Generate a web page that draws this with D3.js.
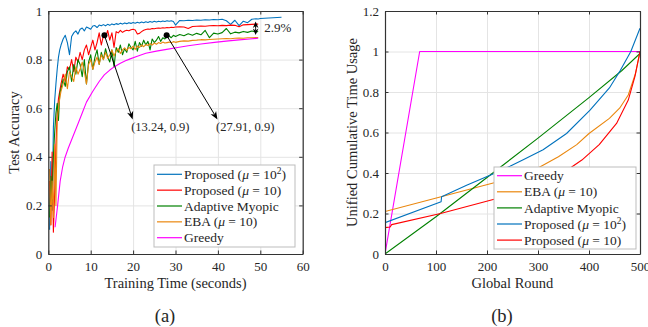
<!DOCTYPE html>
<html><head><meta charset="utf-8">
<script src="https://cdn.jsdelivr.net/npm/d3@7"></script>
<style>
body{margin:0;background:#fff}
svg{display:block}
text{font-family:"Liberation Serif","Times New Roman",serif;fill:#262626}
</style>
</head><body>
<svg id="c" width="648" height="327"></svg>
<script>
// ---------------- DATA: panel (a) ----------------
const timeA = [0.3,0.6,0.9,1.2,1.5,1.8,2.1,2.4,2.7,3.0,
3.5,4.0,4.5,5.0,5.5,6.0,6.5,7.0,7.5,8.0,
8.5,9.0,9.5,10.0,10.5,11.0,11.5,12.0,12.5,13.0,
13.5,14.0,14.5,15.0,15.5,16.0,16.5,17.0,17.5,18.0,
18.5,19.0,19.5,20.0,20.5,21.0,21.5,22.0,22.5,23.0,
23.5,24.0,24.5,25.0,25.5,26.0,26.5,27.0,27.5,28.0,
28.5,29.0,29.5,30.0,
31,32,33,34,35,36,37,38,39,40,
41,42,43,44,45,46,47,48,49,49.5];
const timeBlueExtra = [50,51,52,53,54,55];

const accProposed100 = [0.10,0.38,0.18,0.52,0.63,0.70,0.76,0.81,0.84,0.86,
0.885,0.90,0.87,0.82,0.895,0.91,0.918,0.905,0.925,0.93,
0.918,0.934,0.93,0.925,0.938,0.94,0.932,0.942,0.939,0.944,
0.939,0.945,0.941,0.947,0.943,0.948,0.945,0.95,0.946,0.951,
0.948,0.952,0.949,0.953,0.95,0.954,0.951,0.955,0.952,0.956,
0.953,0.957,0.954,0.958,0.955,0.958,0.956,0.959,0.957,0.96,
0.958,0.96,0.957,0.942,
0.961,0.96,0.962,0.961,0.963,0.962,0.964,0.963,0.965,0.964,
0.966,0.96,0.945,0.962,0.94,0.958,0.952,0.966,0.968,0.967,
0.969,0.97,0.971,0.972,0.973,0.974];

const accProposed10 = [0.30,0.12,0.42,0.09,0.25,0.45,0.58,0.64,0.67,0.70,
0.74,0.71,0.77,0.76,0.80,0.75,0.81,0.79,0.83,0.80,
0.84,0.86,0.82,0.85,0.88,0.84,0.87,0.91,0.86,0.90,
0.89,0.92,0.88,0.91,0.85,0.915,0.91,0.92,0.912,0.918,
0.921,0.919,0.923,0.925,0.922,0.905,0.908,0.915,0.921,0.924,
0.926,0.925,0.928,0.927,0.929,0.93,0.929,0.931,0.93,0.932,
0.931,0.933,0.932,0.934,
0.935,0.934,0.928,0.936,0.937,0.938,0.937,0.939,0.94,0.939,
0.941,0.94,0.942,0.941,0.935,0.943,0.944,0.945,0.946,0.946];

const accMyopic = [0.15,0.32,0.22,0.40,0.50,0.58,0.62,0.55,0.66,0.68,
0.72,0.69,0.75,0.77,0.71,0.78,0.74,0.80,0.78,0.73,
0.80,0.70,0.79,0.82,0.76,0.81,0.84,0.78,0.83,0.80,
0.845,0.81,0.79,0.84,0.77,0.85,0.83,0.86,0.82,0.845,
0.83,0.865,0.85,0.84,0.875,0.835,0.87,0.855,0.88,0.86,
0.875,0.84,0.885,0.87,0.88,0.895,0.875,0.89,0.885,0.895,
0.897,0.89,0.9,0.895,
0.903,0.898,0.906,0.9,0.908,0.902,0.92,0.89,0.909,0.905,
0.911,0.928,0.906,0.913,0.91,0.916,0.912,0.918,0.914,0.916];

const accEBA = [0.35,0.12,0.30,0.15,0.45,0.20,0.55,0.60,0.64,0.67,
0.70,0.74,0.68,0.75,0.73,0.71,0.77,0.74,0.76,0.79,
0.75,0.70,0.78,0.80,0.76,0.79,0.81,0.78,0.82,0.80,
0.83,0.805,0.82,0.84,0.815,0.835,0.845,0.825,0.84,0.848,
0.838,0.85,0.845,0.855,0.842,0.856,0.85,0.86,0.853,0.862,
0.858,0.866,0.86,0.868,0.863,0.87,0.866,0.872,0.868,0.87,
0.872,0.869,0.874,0.871,
0.875,0.877,0.876,0.879,0.88,0.882,0.881,0.883,0.884,0.885,
0.886,0.887,0.886,0.888,0.889,0.888,0.89,0.89,0.891,0.891];

const timeGreedy = [1.6,2.2,2.8,3.4,3.9,4.7,5.5,6.3,7.1,8,9,10.5,12,13.2,14.5,15.7,17,18.2,19.3,21,23,25.5,27.9,30.5,33,36,39.7,42.5,45,47.5,49.5];
const accGreedy = [0.11,0.2,0.3,0.36,0.395,0.435,0.47,0.505,0.54,0.58,0.625,0.67,0.71,0.737,0.757,0.772,0.785,0.795,0.803,0.814,0.826,0.835,0.842,0.85,0.857,0.864,0.872,0.877,0.881,0.885,0.888];

const xTicksA = [0,10,20,30,40,50,60];
const yTicksA = [0,0.2,0.4,0.6,0.8,1];
const legendA = ["Proposed (μ = 10^2)","Proposed (μ = 10)","Adaptive Myopic","EBA (μ = 10)","Greedy"];

// annotation points (a)
const annotPoints = [[13.24,0.9],[27.91,0.9]];
const annotTips = [[19.9,0.554],[39.9,0.554]];
const annotLabels = ["(13.24, 0.9)","(27.91, 0.9)"];
const gapX = 48.9, gapY = [0.957,0.901], gapLabel = "2.9%";

// ---------------- DATA: panel (b) ----------------
const roundGreedy = [0,68,500];
const usageGreedy = [0,1,1];
const roundEBA = [0,110,214,260,300,340,376,400,440,460,477,491,500];
const usageEBA = [0.21,0.283,0.352,0.385,0.425,0.48,0.54,0.595,0.67,0.72,0.785,0.89,1.0];
const roundMyopic = [0,100,200,300,400,464,500];
const usageMyopic = [0,0.184,0.378,0.572,0.772,0.905,0.99];
const roundProp100 = [0,110,111,160,214,245,271,310,356,402,440,461,482,500];
const usageProp100 = [0.155,0.258,0.283,0.34,0.398,0.433,0.465,0.515,0.595,0.71,0.82,0.905,1.0,1.115];
const roundProp10 = [0,10,13,109,214,286,340,366,386,420,454,477,490,500];
const usageProp10 = [0.13,0.133,0.145,0.2,0.27,0.316,0.385,0.43,0.464,0.54,0.645,0.76,0.876,1.0];

const xTicksB = [0,100,200,300,400,500];
const yTicksB = [0,0.2,0.4,0.6,0.8,1,1.2];
const legendB = ["Greedy","EBA (μ = 10)","Adaptive Myopic","Proposed (μ = 10^2)","Proposed (μ = 10)"];

// ---------------- STYLE ----------------
const C = {blue:"#0072BD", red:"#FF0000", green:"#008000", orange:"#EA870E", magenta:"#FF00FF"};
const axisColor = "#333", gridColor = "#e4e4e4";

const svg = d3.select("#c");

function richText(sel, str) {
  const parts = str.split(/(μ|\^\d+)/).filter(s => s.length);
  let shifted = false;
  parts.forEach(p => {
    if (p === "μ") {
      const t = sel.append("tspan").attr("font-style","italic").text("μ");
      if (shifted) { t.attr("dy", 5); shifted = false; }
    } else if (p[0] === "^") {
      sel.append("tspan").attr("dy",-5).attr("font-size","70%").text(p.slice(1));
      shifted = true;
    } else {
      const t = sel.append("tspan").text(p);
      if (shifted) { t.attr("dy", 5); shifted = false; }
    }
  });
}

function panel(p) {
  const x = d3.scaleLinear().domain(p.xDom).range([p.left, p.right]);
  const y = d3.scaleLinear().domain(p.yDom).range([p.bottom, p.top]);
  const g = svg.append("g");
  const h = p.bottom - p.top, w = p.right - p.left;
  // grid
  g.append("g").attr("transform",`translate(0,${p.bottom})`)
    .call(d3.axisBottom(x).tickValues(p.xTicks).tickSize(-h).tickFormat(""))
    .call(a => { a.select(".domain").remove(); a.selectAll("line").attr("stroke",gridColor).attr("stroke-width",1); });
  g.append("g").attr("transform",`translate(${p.left},0)`)
    .call(d3.axisLeft(y).tickValues(p.yTicks).tickSize(-w).tickFormat(""))
    .call(a => { a.select(".domain").remove(); a.selectAll("line").attr("stroke",gridColor).attr("stroke-width",1); });
  // clip
  const cid = "clip" + p.id;
  svg.append("clipPath").attr("id",cid).append("rect")
    .attr("x",p.left).attr("y",p.top).attr("width",w).attr("height",h);
  const lineGen = d3.line().x(d => x(d[0])).y(d => y(d[1]));
  const lg = g.append("g").attr("clip-path",`url(#${cid})`);
  p.series.forEach(s => {
    lg.append("path").datum(d3.zip(s.x, s.y)).attr("d", lineGen)
      .attr("fill","none").attr("stroke", s.color).attr("stroke-width", 1.1)
      .attr("stroke-linejoin","round");
  });
  // axes
  const fmt = d3.format("~g");
  const styleAx = a => {
    a.select(".domain").attr("stroke",axisColor).attr("stroke-width",1.2);
    a.selectAll(".tick line").attr("stroke",axisColor).attr("stroke-width",1);
    a.selectAll("text").attr("font-size",13).attr("fill","#262626")
      .attr("font-family",'"Liberation Serif","Times New Roman",serif');
  };
  g.append("g").attr("transform",`translate(0,${p.bottom})`)
    .call(d3.axisBottom(x).tickValues(p.xTicks).tickSizeInner(-3.5).tickSizeOuter(0).tickPadding(8).tickFormat(fmt)).call(styleAx);
  g.append("g").attr("transform",`translate(0,${p.top})`)
    .call(d3.axisTop(x).tickValues(p.xTicks).tickSizeInner(-3.5).tickSizeOuter(0).tickFormat("")).call(styleAx);
  g.append("g").attr("transform",`translate(${p.left},0)`)
    .call(d3.axisLeft(y).tickValues(p.yTicks).tickSizeInner(-3.5).tickSizeOuter(0).tickPadding(6).tickFormat(fmt)).call(styleAx);
  g.append("g").attr("transform",`translate(${p.right},0)`)
    .call(d3.axisRight(y).tickValues(p.yTicks).tickSizeInner(-3.5).tickSizeOuter(0).tickFormat("")).call(styleAx);
  // labels
  g.append("text").attr("x",(p.left+p.right)/2).attr("y",p.bottom+34).attr("text-anchor","middle")
    .attr("font-size",14.5).text(p.xLabel);
  g.append("text").attr("transform",`translate(${p.yLabelX},${(p.top+p.bottom)/2}) rotate(-90)`)
    .attr("text-anchor","middle").attr("font-size",14.5).text(p.yLabel);
  g.append("text").attr("x",p.capX).attr("y",322).attr("text-anchor","middle")
    .attr("font-size",18.5).text(p.caption);
  // legend
  const L = p.legend;
  const lgd = g.append("g");
  lgd.append("rect").attr("x",L.x).attr("y",L.y).attr("width",L.w).attr("height",L.h)
    .attr("fill","#fff").attr("stroke","#bdbdbd").attr("stroke-width",1);
  L.items.forEach((it,i) => {
    const cy = L.firstY + i*L.step;
    lgd.append("line").attr("x1",L.x+3).attr("x2",L.x+28).attr("y1",cy).attr("y2",cy)
      .attr("stroke",it.color).attr("stroke-width",1.2);
    const t = lgd.append("text").attr("x",L.x+30).attr("y",cy+4.6).attr("font-size",13.5);
    richText(t, it.label);
  });
  return {x, y, g};
}

function arrow(g, x1,y1,x2,y2, Lh=8, W=3.2) {
  const dx=x2-x1, dy=y2-y1, len=Math.hypot(dx,dy), ux=dx/len, uy=dy/len, nx=-uy, ny=ux;
  g.append("line").attr("x1",x1).attr("y1",y1).attr("x2",x2-0.7*Lh*ux).attr("y2",y2-0.7*Lh*uy)
    .attr("stroke","#000").attr("stroke-width",1);
  const pts = [[x2,y2],[x2-Lh*ux+W*nx, y2-Lh*uy+W*ny],[x2-0.7*Lh*ux, y2-0.7*Lh*uy],[x2-Lh*ux-W*nx, y2-Lh*uy-W*ny]];
  g.append("path").attr("d","M"+pts.map(q=>q.join(",")).join("L")+"Z").attr("fill","#000");
}

// ---------------- PANEL A ----------------
const A = panel({
  id:"a", left:48.3, right:302.7, top:11, bottom:254, xDom:[0,60], yDom:[0,1],
  xTicks:xTicksA, yTicks:yTicksA, xLabel:"Training Time (seconds)", yLabel:"Test Accuracy",
  yLabelX:19, caption:"(a)", capX:165,
  series:[
    {x:timeA.concat(timeBlueExtra), y:accProposed100, color:C.blue},
    {x:timeA, y:accProposed10, color:C.red},
    {x:timeA, y:accMyopic, color:C.green},
    {x:timeA, y:accEBA, color:C.orange},
    {x:timeGreedy, y:accGreedy, color:C.magenta}
  ],
  legend:{x:154, y:165, w:141, h:82, firstY:174.3, step:15.85,
    items:[C.blue,C.red,C.green,C.orange,C.magenta].map((c,i)=>({color:c,label:legendA[i]}))}
});
// annotations
const ann = A.g.append("g");
annotPoints.forEach((pt,i) => {
  const px = A.x(pt[0]), py = A.y(pt[1]);
  const tx = A.x(annotTips[i][0]), ty = A.y(annotTips[i][1]);
  arrow(ann, px, py, tx, ty);
  ann.append("circle").attr("cx",px).attr("cy",py).attr("r",3).attr("fill","#000");
  ann.append("text").attr("x",tx-1.5).attr("y",ty+12).attr("font-size",12.5).text(annotLabels[i]);
});
{
  const gx = A.x(gapX), y1 = A.y(gapY[0]), y2 = A.y(gapY[1]), ym = (y1+y2)/2;
  arrow(ann, gx, ym, gx, y1, 6.5, 2.8);
  arrow(ann, gx, ym, gx, y2, 6.5, 2.8);
  ann.append("text").attr("x",gx+8.5).attr("y",ym+3.5).attr("font-size",13).text(gapLabel);
}

// ---------------- PANEL B ----------------
panel({
  id:"b", left:385, right:640, top:11, bottom:254, xDom:[0,500], yDom:[0,1.2],
  xTicks:xTicksB, yTicks:yTicksB, xLabel:"Global Round", yLabel:"Unified Cumulative Time Usage",
  yLabelX:356.5, caption:"(b)", capX:502,
  series:[
    {x:roundGreedy, y:usageGreedy, color:C.magenta},
    {x:roundEBA, y:usageEBA, color:C.orange},
    {x:roundMyopic, y:usageMyopic, color:C.green},
    {x:roundProp100, y:usageProp100, color:C.blue},
    {x:roundProp10, y:usageProp10, color:C.red}
  ],
  legend:{x:494, y:167, w:142, h:82, firstY:175.7, step:16.1,
    items:[C.magenta,C.orange,C.green,C.blue,C.red].map((c,i)=>({color:c,label:legendB[i]}))}
});
</script>
</body></html>
